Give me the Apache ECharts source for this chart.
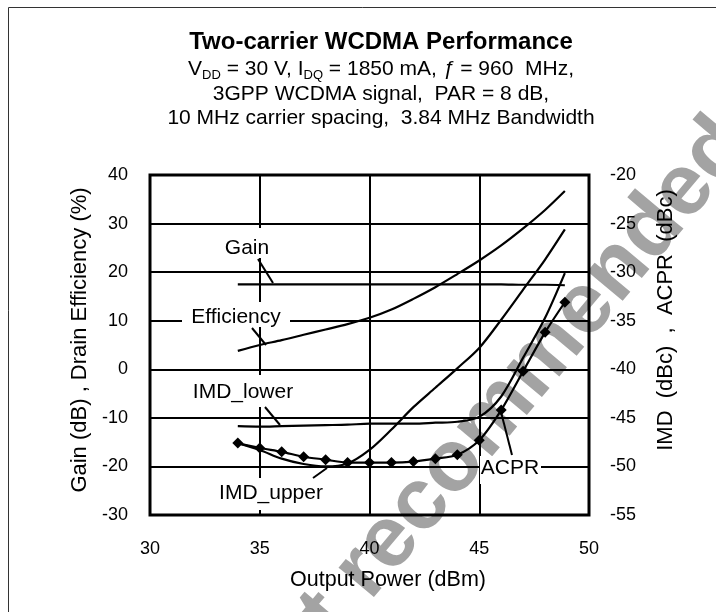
<!DOCTYPE html>
<html>
<head>
<meta charset="utf-8">
<script src="https://cdn.jsdelivr.net/npm/echarts@6/dist/echarts.min.js"></script>
<style>
html, body { margin: 0; padding: 0; background: #fff; }
#chart { width: 716px; height: 612px; }
</style>
</head>
<body>
<div id="chart"></div>
<script>
// output power (dBm), one point per measurement
const pout = [34, 35, 36, 37, 38, 39, 40, 41, 42, 43, 44, 45, 46, 47, 48, 48.9]
// left axis: Gain (dB), Drain Efficiency (%)
const gain = [17.5, 17.5, 17.5, 17.5, 17.5, 17.5, 17.5, 17.5, 17.5, 17.5, 17.5, 17.5, 17.5, 17.4, 17.4, 17.3]
const efficiency = [3.8, 5.0, 6.0, 7.1, 8.2, 9.3, 10.6, 12.3, 14.5, 16.9, 19.6, 22.4, 25.5, 29.0, 32.8, 36.7]
// right axis: IMD (dBc), ACPR (dBc)
const imdLower = [-45.85, -45.9, -45.85, -45.8, -45.75, -45.7, -45.6, -45.6, -45.6, -45.5, -45.4, -44.9, -42.8, -38.8, -34.7, -30.1]
const imdUpper = [-47.6, -48.3, -49.2, -49.75, -50.0, -49.7, -48.3, -46.2, -43.9, -41.9, -39.9, -37.8, -34.9, -31.8, -28.7, -25.6]
const acpr = [-47.6, -48.1, -48.5, -49.0, -49.3, -49.6, -49.6, -49.6, -49.5, -49.2, -48.8, -47.3, -44.2, -40.2, -36.2, -33.1]

const font = 'Liberation Sans'
const chart = echarts.init(document.getElementById('chart'))

const pairs = ys => pout.map((x, i) => [x, ys[i]])
const curve = (name, ys, axis, extra) => Object.assign({
  name,
  type: 'line',
  yAxisIndex: axis,
  data: pairs(ys),
  smooth: 0.3,
  symbol: 'none',
  lineStyle: { color: '#000', width: 2.2 },
  z: 3
}, extra)

// label with white box + leader line (pixel layout)
const note = (text, cx, cy, box, lead) => [
  { type: 'rect', z: 100, shape: { x: box[0], y: box[1], width: box[2] - box[0], height: box[3] - box[1] }, style: { fill: '#fff' } },
  { type: 'text', z: 101, x: cx, y: cy, style: { text, font: '21px ' + font, fill: '#000', align: 'center', verticalAlign: 'middle' } },
  { type: 'line', z: 101, shape: { x1: lead[0], y1: lead[1], x2: lead[2], y2: lead[3] }, style: { stroke: '#000', lineWidth: 2 } }
]

chart.setOption({
  animation: false,
  title: {
    text: 'Two-carrier WCDMA Performance',
    subtext: 'V{sub|DD} = 30 V, I{sub|DQ} = 1850 mA, {it|ƒ} = 960  MHz,\n3GPP WCDMA signal,  PAR = 8 dB,\n10 MHz carrier spacing,  3.84 MHz Bandwidth',
    left: 376,
    top: 25,
    textAlign: 'center',
    itemGap: 3,
    textStyle: { fontFamily: font, fontSize: 24, fontWeight: 'bold', color: '#000' },
    subtextStyle: {
      fontFamily: font, fontSize: 21, color: '#000', lineHeight: 24.5,
      rich: {
        sub: { fontFamily: font, fontSize: 13, color: '#000', verticalAlign: 'bottom', lineHeight: 17 },
        it: { fontFamily: font, fontSize: 21, color: '#000', fontStyle: 'italic' }
      }
    }
  },
  grid: { left: 150, right: 127, top: 175, bottom: 97, show: true, borderColor: '#000', borderWidth: 3 },
  xAxis: {
    type: 'value', min: 30, max: 50, interval: 5,
    axisLine: { show: false }, axisTick: { show: false },
    splitLine: { show: true, lineStyle: { color: '#000', width: 2 } },
    axisLabel: { color: '#000', fontFamily: font, fontSize: 18, margin: 25 },
    name: 'Output Power (dBm)', nameLocation: 'middle', nameGap: 54,
    nameTextStyle: { color: '#000', fontFamily: font, fontSize: 21.5, padding: [0, 0, 0, 37] }
  },
  yAxis: [
    {
      type: 'value', min: -30, max: 40, interval: 10, position: 'left',
      axisLine: { show: false }, axisTick: { show: false },
      splitLine: { show: true, lineStyle: { color: '#000', width: 2 } },
      axisLabel: { color: '#000', fontFamily: font, fontSize: 18, margin: 22 },
      name: 'Gain (dB) , Drain Efficiency (%)', nameLocation: 'middle', nameGap: 57,
      nameTextStyle: { color: '#000', fontFamily: font, fontSize: 22, padding: [0, 0, 0, 10] }
    },
    {
      type: 'value', min: -55, max: -20, interval: 5, position: 'right',
      axisLine: { show: false }, axisTick: { show: false }, splitLine: { show: false },
      axisLabel: { color: '#000', fontFamily: font, fontSize: 18, margin: 21 },
      name: 'IMD  (dBc)  ,  ACPR  (dBc)', nameLocation: 'middle', nameGap: 66,
      nameTextStyle: { color: '#000', fontFamily: font, fontSize: 22, padding: [0, 0, 0, 50] }
    }
  ],
  series: [
    curve('Gain', gain, 0),
    curve('Efficiency', efficiency, 0),
    curve('IMD_lower', imdLower, 1),
    curve('IMD_upper', imdUpper, 1),
    curve('ACPR', acpr, 1, { symbol: 'diamond', symbolSize: 11, showSymbol: true, showAllSymbol: true, itemStyle: { color: '#000' } })
  ],
  graphic: [
    // watermark sits underneath the chart
    {
      type: 'text', z: -10, x: 243, y: 716, rotation: 50 * Math.PI / 180,
      style: { text: 'Not recommended', font: 'bold 87px ' + font, fill: '#a3a3a3', align: 'left', verticalAlign: 'middle' }
    },
    { type: 'rect', z: 90, shape: { x: 8.5, y: 7.5, width: 900, height: 900 }, style: { fill: 'none', stroke: '#333', lineWidth: 1 } },
    ...note('Gain', 247, 248, [222, 228, 272, 258], [258, 259, 273, 283]),
    ...note('Efficiency', 236, 317, [182, 302, 290, 327], [252, 328, 266, 345]),
    ...note('IMD_lower', 243, 392, [186, 375, 300, 407], [265, 407, 280, 425]),
    ...note('IMD_upper', 271, 493, [212, 478, 330, 510], [313, 478, 327, 468]),
    ...note('ACPR', 510, 468, [480, 456, 541, 484], [512, 455, 501, 412])
  ]
})
</script>
</body>
</html>
